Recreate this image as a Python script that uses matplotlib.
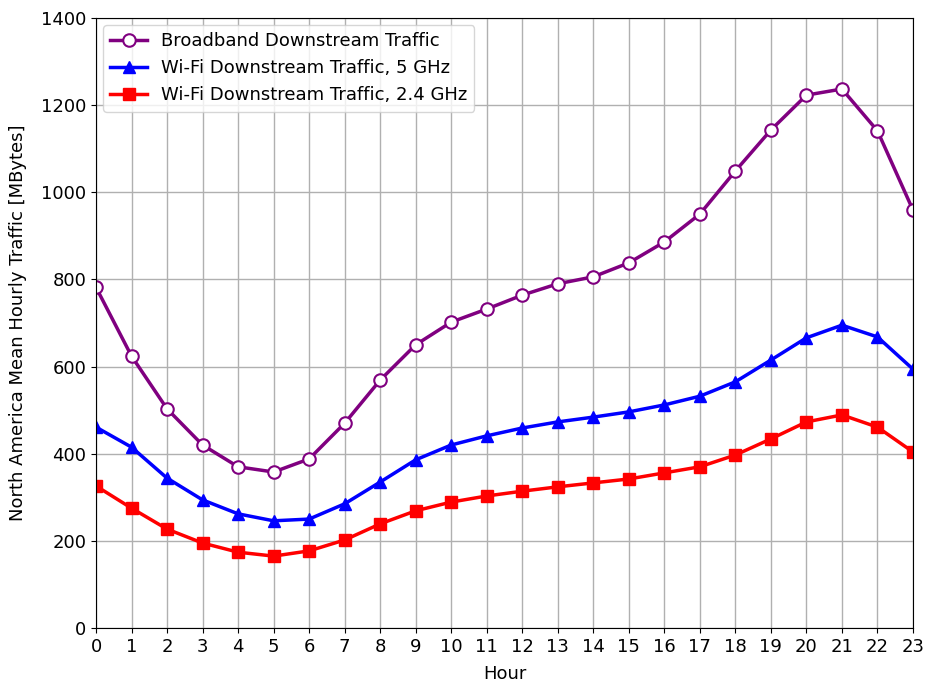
import matplotlib
matplotlib.use('Agg')
import matplotlib.pyplot as plt
import numpy as np

hours = list(range(24))
broadband = [782, 624, 503, 420, 370, 358, 388, 470, 569, 650, 702, 732,
             764, 790, 806, 838, 886, 950, 1049, 1143, 1223, 1237, 1141, 959]
wifi_5 = [461, 415, 344, 294, 262, 246, 250, 285, 335, 386, 420, 441,
          459, 473, 484, 496, 512, 532, 565, 615, 666, 695, 668, 594]
wifi_24 = [326, 275, 227, 195, 174, 165, 177, 202, 239, 269, 289, 303,
           314, 324, 333, 342, 356, 370, 397, 434, 473, 489, 461, 404]

fig = plt.figure(figsize=(9.3, 6.85), dpi=100)
ax = fig.add_axes([96/930, 1-628/685, (913-96)/930, (628-18)/685])

ax.plot(hours, broadband, color='purple', lw=2.5, marker='o', ms=9,
        markerfacecolor='white', markeredgecolor='purple', markeredgewidth=1.5,
        label='Broadband Downstream Traffic')
ax.plot(hours, wifi_5, color='blue', lw=2.5, marker='^', ms=9,
        label='Wi-Fi Downstream Traffic, 5 GHz')
ax.plot(hours, wifi_24, color='red', lw=2.5, marker='s', ms=8,
        label='Wi-Fi Downstream Traffic, 2.4 GHz')

ax.set_xlim(0, 23)
ax.set_ylim(0, 1400)
ax.set_xticks(hours)
ax.set_yticks(range(0, 1401, 200))
ax.grid(True, color='#b0b0b0', lw=1)
ax.tick_params(labelsize=13)
ax.set_xlabel('Hour', fontsize=13, labelpad=7)
ax.set_ylabel('North America Mean Hourly Traffic [MBytes]', fontsize=13, labelpad=10)
ax.legend(loc='upper left', fontsize=13, borderaxespad=0.4)

fig.savefig('out.png', dpi=100)
